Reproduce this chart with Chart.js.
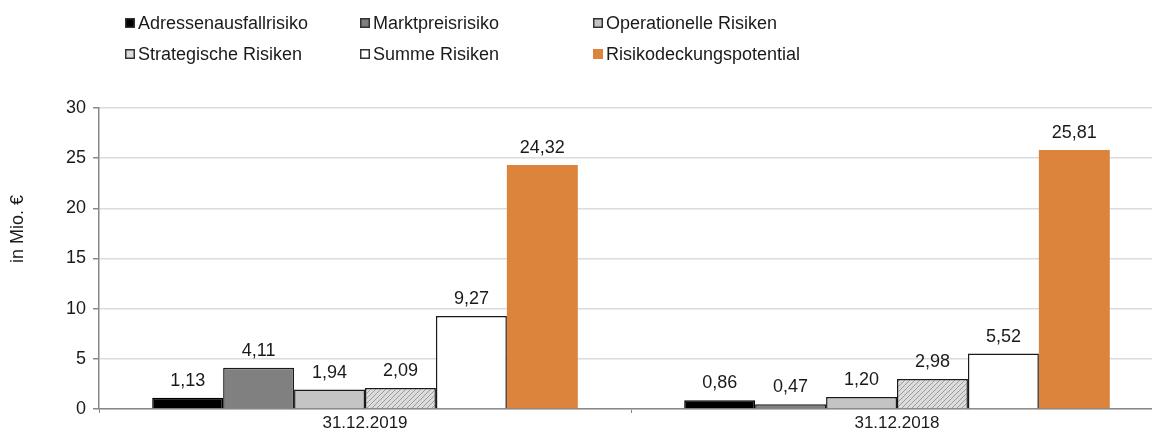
<!DOCTYPE html>
<html>
<head>
<meta charset="utf-8">
<script src="https://cdn.jsdelivr.net/npm/chart.js@4.4.1/dist/chart.umd.min.js"></script>
<style>
    html, body { margin: 0; padding: 0; background: #fff; overflow: hidden; }
    #wrap { width: 1164px; height: 436px; }
</style>
</head>
<body>
<div id="wrap"><canvas id="risikoChart" width="1164" height="436"></canvas></div>
<script>
const stichtage = ['31.12.2019', '31.12.2018'];
const adressenausfallrisiko = [1.13, 0.86];
const marktpreisrisiko = [4.11, 0.47];
const operationelleRisiken = [1.94, 1.20];
const strategischeRisiken = [2.09, 2.98];
const summeRisiken = [9.27, 5.52];
const risikodeckungspotential = [24.32, 25.81];
const achsenTitel = 'in Mio. €';

const schrift = '"Liberation Sans", Arial, sans-serif';

// Schraffur fuer strategische Risiken
function creaSchraffur() {
    const c = document.createElement('canvas');
    c.width = 5;
    c.height = 5;
    const g = c.getContext('2d');
    g.fillStyle = '#dcdcdc';
    g.fillRect(0, 0, 5, 5);
    g.strokeStyle = '#9a9a9a';
    g.lineWidth = 1;
    g.beginPath();
    g.moveTo(-1, 6); g.lineTo(6, -1);
    g.moveTo(-1, 1); g.lineTo(1, -1);
    g.moveTo(4, 6); g.lineTo(6, 4);
    g.stroke();
    return g.createPattern(c, 'repeat');
}

const ctx = document.getElementById('risikoChart').getContext('2d');
const schraffur = creaSchraffur();

function serie(label, data, bg, border, bw, legendBg) {
    return { label: label, data: data, backgroundColor: bg, borderColor: border, borderWidth: bw, legendFill: legendBg || bg };
}

const legendeX = [125, 360, 593];
const legendeY = [23, 54];

const legendePlugin = {
    id: 'legendeRaster',
    afterDraw(chart) {
        const c = chart.ctx;
        c.save();
        c.font = '18px ' + schrift;
        c.textBaseline = 'middle';
        c.textAlign = 'left';
        chart.data.datasets.forEach((ds, i) => {
            const x = legendeX[i % 3];
            const y = legendeY[Math.floor(i / 3)];
            c.fillStyle = ds.legendFill;
            c.fillRect(x, y - 5, 10, 10);
            if (ds.borderWidth > 0) {
                c.strokeStyle = '#333';
                c.lineWidth = 1.5;
                c.strokeRect(x + 0.75, y - 4.25, 8.5, 8.5);
            }
            c.fillStyle = '#1a1a1a';
            c.fillText(ds.label, x + 13, y + 1);
        });
        c.restore();
    }
};

const wertePlugin = {
    id: 'werteLabels',
    afterDatasetsDraw(chart) {
        const c = chart.ctx;
        c.save();
        c.font = '18px ' + schrift;
        c.fillStyle = '#1a1a1a';
        c.textAlign = 'center';
        c.textBaseline = 'middle';
        chart.data.datasets.forEach((ds, i) => {
            chart.getDatasetMeta(i).data.forEach((bar, j) => {
                c.fillText(ds.data[j].toFixed(2).replace('.', ','), bar.x, bar.y - 17);
            });
        });
        // Achsentitel
        c.translate(18, 229);
        c.rotate(-Math.PI / 2);
        c.fillText(achsenTitel, 0, 0);
        c.restore();
    }
};

new Chart(ctx, {
    type: 'bar',
    data: {
        labels: stichtage,
        datasets: [
            serie('Adressenausfallrisiko', adressenausfallrisiko, '#000000', '#000000', 1.5),
            serie('Marktpreisrisiko', marktpreisrisiko, '#808080', '#1a1a1a', 1.5),
            serie('Operationelle Risiken', operationelleRisiken, '#c4c4c4', '#1a1a1a', 1.5),
            serie('Strategische Risiken', strategischeRisiken, schraffur, '#1a1a1a', 1.5, '#dcdcdc'),
            serie('Summe Risiken', summeRisiken, '#ffffff', '#1a1a1a', 1.5),
            serie('Risikodeckungspotential', risikodeckungspotential, '#dc843b', '#dc843b', 0)
        ]
    },
    options: {
        responsive: false,
        animation: false,
        layout: { padding: { top: 108, right: 1, left: 0, bottom: 0 } },
        datasets: {
            bar: { categoryPercentage: 0.8, barPercentage: 1.0 }
        },
        plugins: {
            legend: { display: false },
            tooltip: { enabled: false }
        },
        scales: {
            x: {
                afterFit(scale) { scale.height = 27; },
                grid: { drawOnChartArea: false, drawTicks: true, tickLength: 4, color: '#888', offset: true },
                border: { color: '#888', width: 1.5 },
                ticks: { color: '#1a1a1a', font: { family: schrift, size: 17 }, padding: 0 }
            },
            y: {
                min: 0,
                max: 30,
                afterFit(scale) { scale.width = 99; },
                grid: { color: '#dcdcdc', lineWidth: 1.5, tickColor: '#888', tickLength: 6 },
                border: { color: '#888', width: 1.5 },
                ticks: { stepSize: 5, color: '#1a1a1a', font: { family: schrift, size: 18 }, padding: 7 }
            }
        }
    },
    plugins: [legendePlugin, wertePlugin]
});
</script>
</body>
</html>
